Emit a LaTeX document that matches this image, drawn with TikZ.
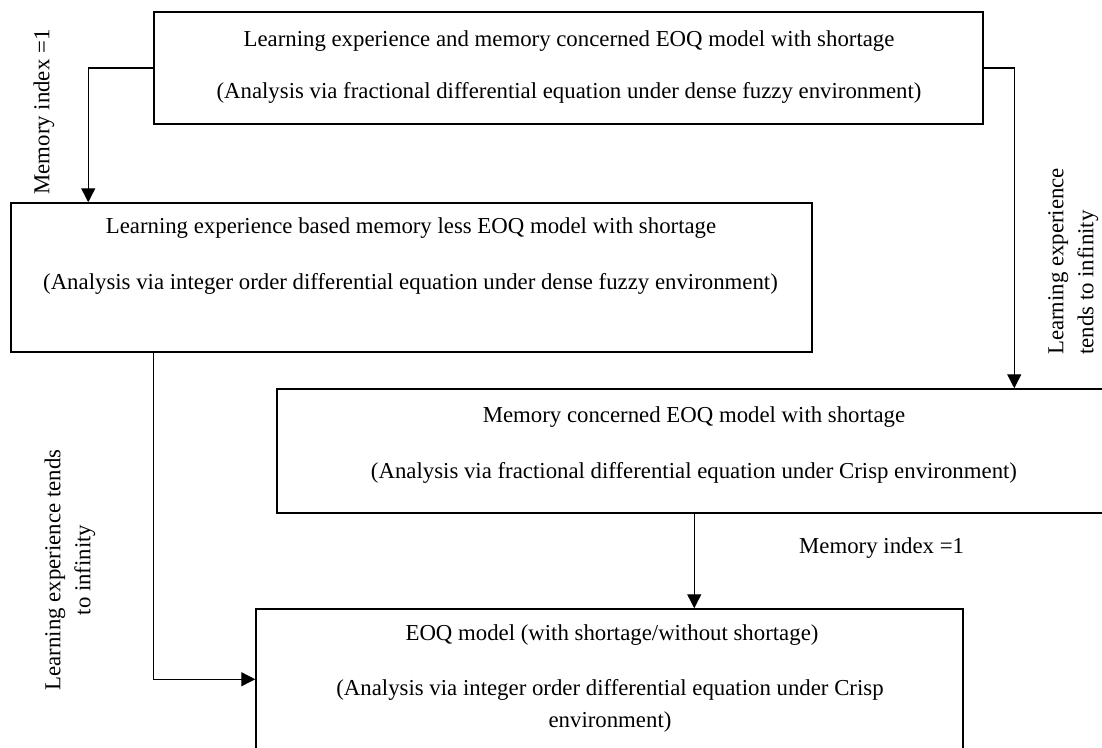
\documentclass[tikz,border=0pt]{standalone}
\usepackage{fontspec}
\setmainfont{Liberation Serif}
\usetikzlibrary{arrows.meta}
\begin{document}
\begin{tikzpicture}[x=1pt,y=-1pt,
  box/.style={draw, line width=1.5pt, inner sep=0pt},
  lbl/.style={inner sep=0pt, font=\fontsize{22.8}{30}\selectfont},
  arr/.style={line width=1.4pt, -{Triangle[length=14pt,width=14pt]}}]
\useasboundingbox (0,0) rectangle (1102,747);
\clip (0,0) rectangle (1102,747);
\node[box, minimum width=829pt, minimum height=112pt] (b1) at (568.5,68) {};
\node[box, minimum width=801pt, minimum height=149pt] (b2) at (411.5,277.5) {};
\node[box, minimum width=843pt, minimum height=124pt] (b3) at (698.5,451) {};
\node[box, minimum width=707pt, minimum height=161pt] (b4) at (609.5,689.5) {};
\node[lbl, anchor=base] (t1a) at (569,46) {Learning experience and memory concerned EOQ model with shortage};
\node[lbl, anchor=base] (t1b) at (569,98) {(Analysis via fractional differential equation under dense fuzzy environment)};
\node[lbl, anchor=base] (t2a) at (411,233) {Learning experience based memory less EOQ model with shortage};
\node[lbl, anchor=base] (t2b) at (410.5,289) {(Analysis via integer order differential equation under dense fuzzy environment)};
\node[lbl, anchor=base] (t3a) at (694,422) {Memory concerned EOQ model with shortage};
\node[lbl, anchor=base] (t3b) at (694,478) {(Analysis via fractional differential equation under Crisp environment)};
\node[lbl, anchor=base] (t4a) at (612,640) {EOQ model (with shortage/without shortage)};
\node[lbl, anchor=base] (t4b) at (610,695) {(Analysis via integer order differential equation under Crisp};
\node[lbl, anchor=base] (t4c) at (610,727) {environment)};
\node[lbl, rotate=90] (m1) at (44,112) {Memory index =1};
\node[lbl, rotate=90, align=left, anchor=north west] (le1) at (1048,355) {Learning experience\\tends to infinity};
\node[lbl, rotate=90, align=center] (le2) at (70,570) {Learning experience tends\\to infinity};
\node[lbl, anchor=base west] (m2) at (799,553) {Memory index =1};
\coordinate (c12) at ([xshift=78pt]b2.north west);
\coordinate (c13) at ([xshift=738pt]b3.north west);
\coordinate (c24) at ([xshift=143pt]b2.south west);
\coordinate (c34) at ([xshift=418pt]b3.south west);
\draw[arr] (b1.west) -| (c12);
\draw[arr] (b1.east) -| (c13);
\draw[arr] (c24) |- ([yshift=-71pt]b4.north west);
\draw[arr] (c34) -- (c34 |- b4.north);
\end{tikzpicture}
\end{document}
